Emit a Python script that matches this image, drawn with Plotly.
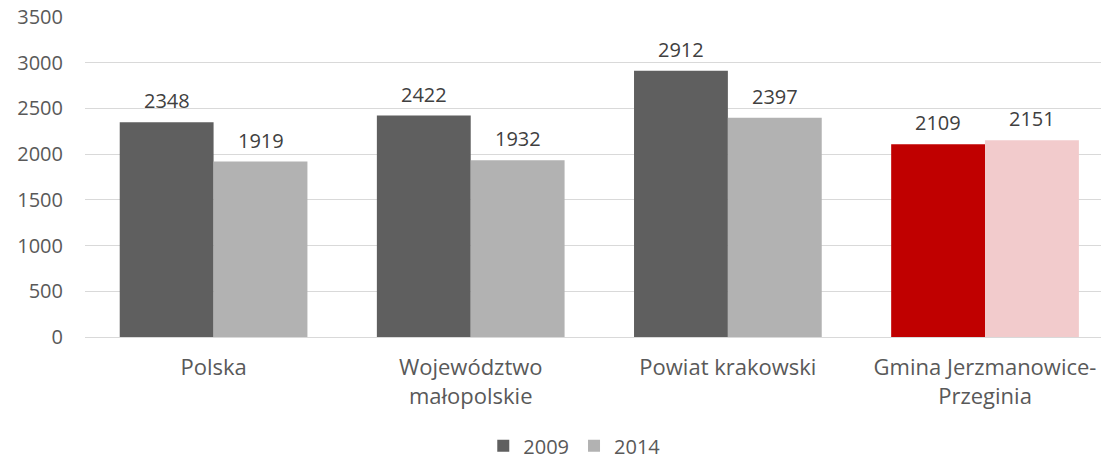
import plotly.graph_objects as go

categories = ["Polska", "Województwo<br>małopolskie", "Powiat krakowski", "Gmina Jerzmanowice-<br>Przeginia"]
series_names = ["2009", "2014"]
values_2009 = [2348, 2422, 2912, 2109]
values_2014 = [1919, 1932, 2397, 2151]
colors_2009 = ["#5f5f5f", "#5f5f5f", "#5f5f5f", "#c00000"]
colors_2014 = ["#b2b2b2", "#b2b2b2", "#b2b2b2", "#f2cbcc"]
y_ticks = [0, 500, 1000, 1500, 2000, 2500, 3000, 3500]

FONT = "Open Sans"
fig = go.Figure()
for name, vals, cols in [(series_names[0], values_2009, colors_2009), (series_names[1], values_2014, colors_2014)]:
    fig.add_trace(go.Bar(x=categories, y=vals, name=name, marker=dict(color=cols, line=dict(width=0))))

annotations = []
for vals, shift in [(values_2009, -47), (values_2014, 47)]:
    for c, v in zip(categories, vals):
        annotations.append(dict(x=c, y=v, text=str(v), showarrow=False, xref="x", yref="y",
                                xshift=shift, yanchor="bottom", yshift=6,
                                font=dict(family=FONT, size=20, color="#404040")))

fig.update_layout(
    width=1101, height=462,
    margin=dict(l=85, r=0, t=17, b=125),
    paper_bgcolor="white", plot_bgcolor="white",
    barmode="group", bargap=0.27, bargroupgap=0,
    font=dict(family=FONT, color="#595959"),
    annotations=annotations,
    showlegend=True,
    legend=dict(orientation="h", x=0.392, xanchor="left", yref="container", y=0.035, yanchor="middle",
                font=dict(family=FONT, size=20, color="#595959"), itemwidth=30,
                traceorder="normal"),
    xaxis=dict(type="category", range=[-0.5, 3.451], showgrid=False, showline=True, automargin=False,
               linecolor="#d9d9d9", linewidth=1, ticks="", tickfont=dict(family=FONT, size=22, color="#595959"),
               ticklabelstandoff=11),
    yaxis=dict(range=[0, 3500], tickvals=y_ticks, showgrid=True, gridcolor="#d9d9d9", gridwidth=1,
               automargin=False,
               zeroline=False, showline=False, tickfont=dict(family=FONT, size=20, color="#595959"),
               ticklabelstandoff=21),
)
fig.write_html("out.html", config={"displayModeBar": False},
               post_script="document.body.style.margin='0';document.body.style.overflow='hidden';")
